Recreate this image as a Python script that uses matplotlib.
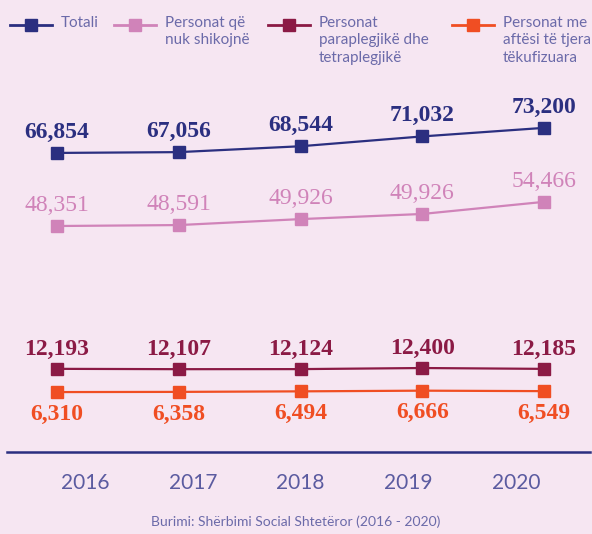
import numpy as np
import matplotlib.pyplot as plt
from matplotlib.lines import Line2D

years = [2016, 2017, 2018, 2019, 2020]
totali = [66854, 67056, 68544, 71032, 73200]
pa_shikim = [48351, 48591, 49926, 49926, 54466]
# the 2019 point sits higher than its printed label in the source
pa_shikim_plot = [48351, 48591, 50100, 51400, 54466]
paraplegjike = [12193, 12107, 12124, 12400, 12185]
te_tjera = [6310, 6358, 6494, 6666, 6549]

names = ["Totali", "Personat që\nnuk shikojnë", "Personat\nparaplegjikë dhe\ntetraplegjikë",
         "Personat me\naftësi të tjera\ntëkufizuara"]
colors = ["#2b2f80", "#d083b9", "#8b1a45", "#f04e23"]
BG = "#f6e6f2"
TXT = "#6b6aa9"

fig = plt.figure(figsize=(5.92, 5.34), dpi=100, facecolor=BG)
ax = fig.add_axes([7/592, 82/534, 583/592, 372/534])
ax.set_facecolor(BG)

series = [(totali, totali), (pa_shikim_plot, pa_shikim), (paraplegjike, paraplegjike),
          (te_tjera, te_tjera)]
# label offset in points: above (+) or below (-)
offsets = [15, 15, 14, -16]
weights = ["bold", "normal", "bold", "bold"]
for (vals, labs), c, off, w in zip(series, colors, offsets, weights):
    ax.plot(years, vals, color=c, lw=1.6, marker="s", ms=8, mec=c, mfc=c)
    for x, v, lab in zip(years, vals, labs):
        ax.annotate(f"{lab:,}", (x, v), xytext=(0, off), textcoords="offset points",
                    ha="center", va="center", color=c, fontsize=17, fontweight=w,
                    family="Liberation Serif")

ax.set_xlim(2015.589, 2020.378)
ax.set_ylim(-8860, 85316)
for s in ["top", "left", "right"]:
    ax.spines[s].set_visible(False)
ax.spines["bottom"].set_color("#2b2f80")
ax.spines["bottom"].set_linewidth(1.8)
ax.set_yticks([])
yr = np.array(years)
ax.set_xticks(2018 + (yr - 2018) * 0.885, [str(y) for y in years])
ax.tick_params(axis="x", length=0, pad=15, labelsize=15, labelcolor="#5b5ba0")
for t in ax.get_xticklabels():
    t.set_family("Lato")

# legend drawn by hand so the handle sits on the first text line
leg_x = [10, 114, 268, 452]
for lx, c, n in zip(leg_x, colors, names):
    y = 1 - 25/534
    fig.add_artist(Line2D([lx/592, (lx+42)/592], [y, y], color=c, lw=2,
                          transform=fig.transFigure))
    fig.add_artist(Line2D([(lx+21)/592], [y], color=c, marker="s", ms=8,
                          transform=fig.transFigure))
    fig.text((lx+51)/592, 1 - 16/534, n, ha="left", va="top", color=TXT,
             fontsize=11, family="Lato", linespacing=1.3)

fig.text(0.5, 1 - 522/534, "Burimi: Shërbimi Social Shtetëror (2016 - 2020)",
         ha="center", va="center", color=TXT, fontsize=10, family="Lato")

fig.savefig("out.png", dpi=100, facecolor=BG)
